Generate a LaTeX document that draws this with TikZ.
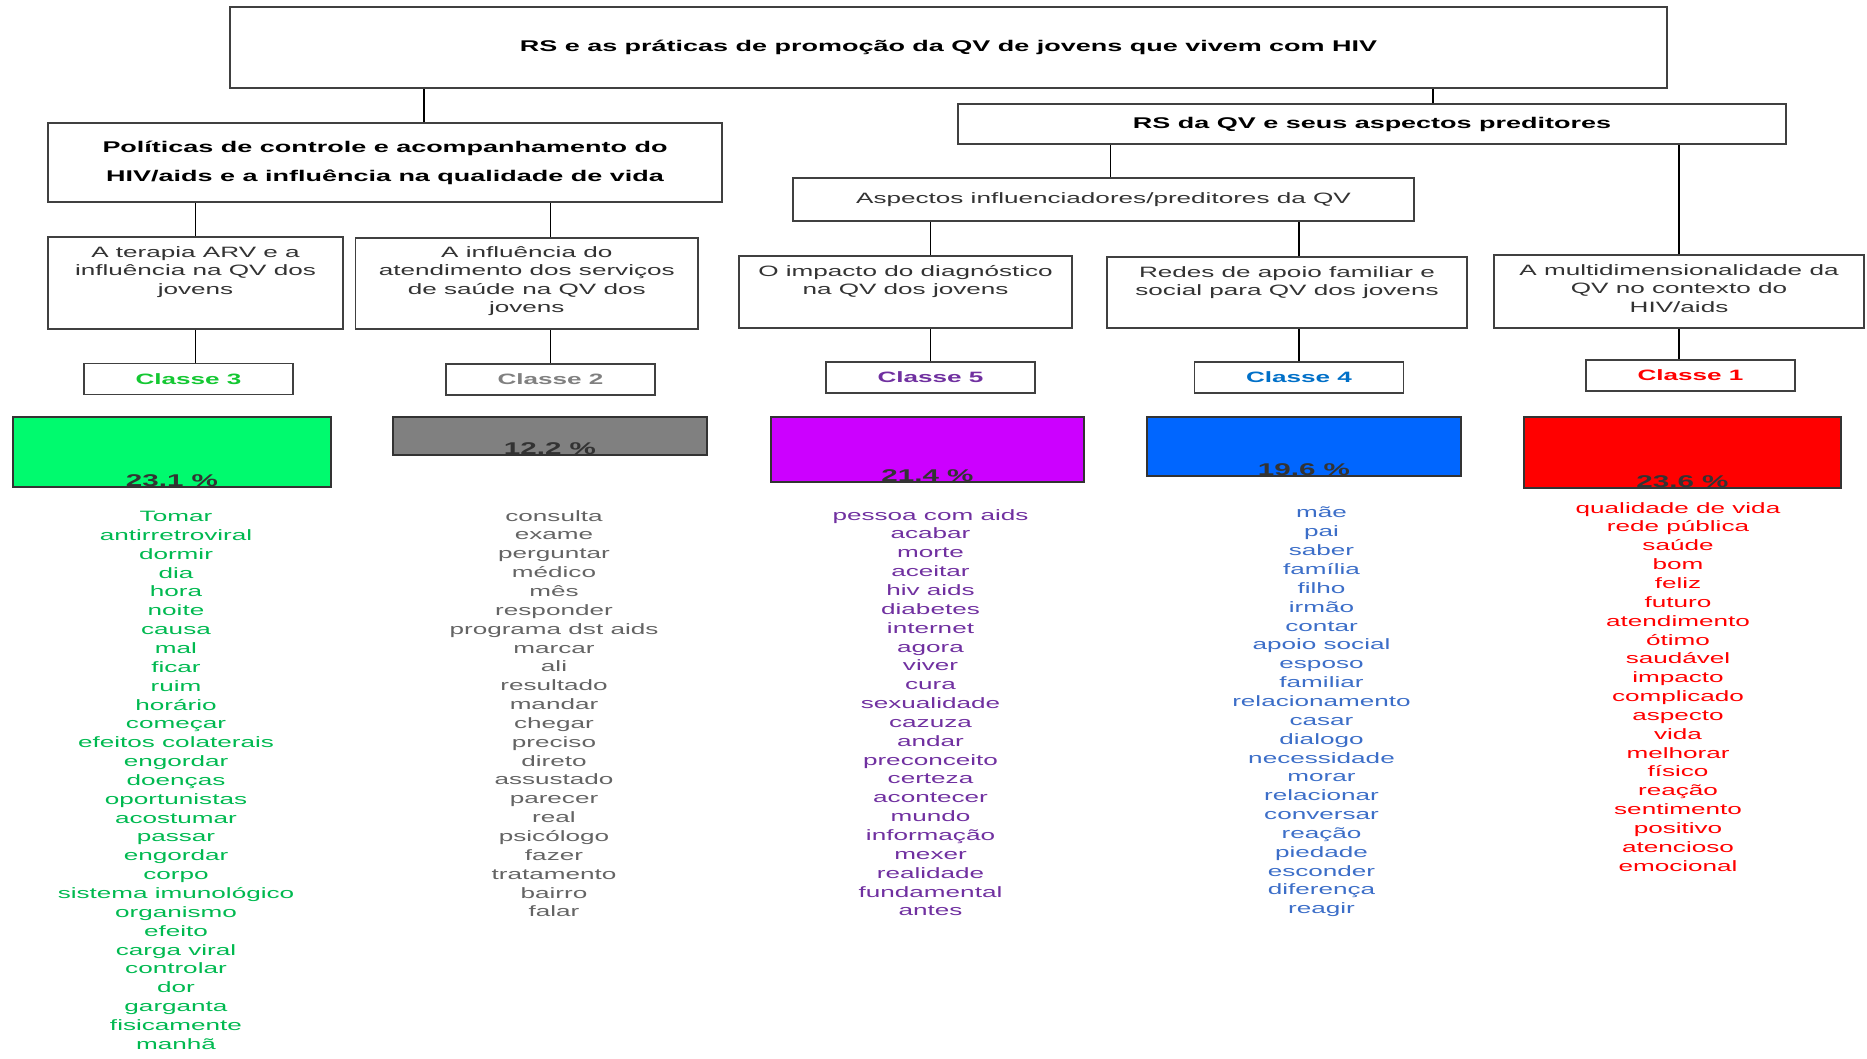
\documentclass[tikz,border=0pt]{standalone}
\usepackage{fontspec}
\setmainfont{Liberation Sans}[FakeStretch=1.74]
\usepackage{tikz}

\definecolor{barverde}{RGB}{0,250,110}
\definecolor{barcinza}{RGB}{128,128,128}
\definecolor{barroxo}{RGB}{204,0,255}
\definecolor{barazul}{RGB}{0,102,255}
\definecolor{barvermelho}{RGB}{255,0,0}
\definecolor{txtverde}{RGB}{0,185,80}
\definecolor{txtcinza}{RGB}{100,100,100}
\definecolor{txtroxo}{RGB}{112,48,160}
\definecolor{txtazul}{RGB}{60,110,200}
\definecolor{txtvermelho}{RGB}{255,0,0}
\definecolor{clsverde}{RGB}{20,200,50}
\definecolor{clscinza}{RGB}{128,128,128}
\definecolor{clsazul}{RGB}{0,112,200}

\begin{document}
\begin{tikzpicture}[x=1pt, y=-1pt,
    caixa/.style={draw=black!75, line width=1.8pt, fill=white, inner sep=0pt},
    titulo/.style={font=\bfseries\fontsize{15.5}{29}\selectfont, align=center},
    texto/.style={inner sep=0pt, align=center, text=black!80, font=\fontsize{15}{18.5}\selectfont},
    classe/.style={caixa, minimum width=209pt, minimum height=31pt, font=\bfseries\fontsize{15}{18}\selectfont},
    barra/.style={draw=black!80, line width=2pt, inner sep=0pt},
    pct/.style={inner sep=0pt, anchor=base, text=black!80, font=\bfseries\fontsize{17}{20}\selectfont},
    lista/.style={inner sep=0pt, anchor=north, align=center, font=\fontsize{15}{18.85}\selectfont},
    liga/.style={line width=1.3pt, black}]
    \useasboundingbox (0,0) rectangle (1867,1059);

    % 1. Caixa principal
    \node[caixa, titulo, minimum width=1437pt, minimum height=81pt] (topo) at (948.5,47.5) {RS e as práticas de promoção da QV de jovens que vivem com HIV};

    % 2. Segundo nivel
    \node[caixa, titulo, minimum width=674pt, minimum height=79pt] (pol) at (385,162.5) {Políticas de controle e acompanhamento do\\HIV/aids e a influência na qualidade de vida};
    \node[caixa, titulo, minimum width=828pt, minimum height=40pt] (rs) at (1372,124) {RS da QV e seus aspectos preditores};
    \node[caixa, texto, minimum width=621pt, minimum height=43pt] (asp) at (1103.5,199.5) {Aspectos influenciadores/preditores da QV};

    % 3. Terceiro nivel (texto no alto da caixa)
    \node[caixa, minimum width=295pt, minimum height=92pt] (tera) at (195.5,283) {};
    \node[texto, anchor=north] (tera-t) at ([yshift=-10pt]tera.north) {A terapia ARV e a\\influência na QV dos\\jovens};
    \node[caixa, minimum width=342.5pt, minimum height=91pt] (infl) at (526.75,283.5) {};
    \node[texto, anchor=north] (infl-t) at ([yshift=-9pt]infl.north) {A influência do\\atendimento dos serviços\\de saúde na QV dos\\jovens};
    \node[caixa, minimum width=333pt, minimum height=72pt] (imp) at (905.5,292) {};
    \node[texto, anchor=north] (imp-t) at ([yshift=-10pt]imp.north) {O impacto do diagnóstico\\na QV dos jovens};
    \node[caixa, minimum width=360pt, minimum height=71pt] (redes) at (1287,292.5) {};
    \node[texto, anchor=north] (redes-t) at ([yshift=-10pt]redes.north) {Redes de apoio familiar e\\social para QV dos jovens};
    \node[caixa, minimum width=370pt, minimum height=73pt] (multi) at (1679,291.5) {};
    \node[texto, anchor=north] (multi-t) at ([yshift=-10pt]multi.north) {A multidimensionalidade da\\QV no contexto do\\HIV/aids};

    % 4. Classes
    \node[classe, text=clsverde] (c3) at (188.5,379) {Classe 3};
    \node[classe, text=clscinza] (c2) at (550.5,379.5) {Classe 2};
    \node[classe, text=txtroxo] (c5) at (930.5,377.5) {Classe 5};
    \node[classe, text=clsazul] (c4) at (1299,377.5) {Classe 4};
    \node[classe, text=txtvermelho] (c1) at (1690.5,375.5) {Classe 1};

    % 5. Ligacoes
    \draw[liga] ([xshift=39pt]pol.north) -- ([xshift=39pt]pol.north |- topo.south);
    \draw[liga] ([xshift=61pt]rs.north) -- ([xshift=61pt]rs.north |- topo.south);
    \draw[liga] (tera.north) -- (tera.north |- pol.south);
    \draw[liga] (c2.north |- infl.north) -- (c2.north |- pol.south);
    \draw[liga] ([xshift=7pt]asp.north) -- ([xshift=7pt]asp.north |- rs.south);
    \draw[liga] (multi.north) -- (multi.north |- rs.south);
    \draw[liga] (c5.north |- imp.north) -- (c5.north |- asp.south);
    \draw[liga] (c4.north |- redes.north) -- (c4.north |- asp.south);
    \draw[liga] (tera.south) -- (tera.south |- c3.north);
    \draw[liga] (c2.north) -- (c2.north |- infl.south);
    \draw[liga] (c5.north) -- (c5.north |- imp.south);
    \draw[liga] (c4.north) -- (c4.north |- redes.south);
    \draw[liga] (multi.south) -- (multi.south |- c1.north);

    % 6. Barras com percentuais
    \node[barra, fill=barverde, minimum width=318pt, minimum height=70pt] (bar3) at (172,452) {};
    \node[barra, fill=barcinza, minimum width=314pt, minimum height=38pt] (bar2) at (550,436) {};
    \node[barra, fill=barroxo, minimum width=313pt, minimum height=65pt] (bar5) at (927.5,449.5) {};
    \node[barra, fill=barazul, minimum width=314pt, minimum height=59pt] (bar4) at (1304,446.5) {};
    \node[barra, fill=barvermelho, minimum width=317pt, minimum height=71pt] (bar1) at (1682.5,452.5) {};
    \node[pct] (p3) at ([yshift=2pt]bar3.south) {23.1 \%};
    \node[pct] (p2) at ([yshift=2pt]bar2.south) {12.2 \%};
    \node[pct] (p5) at ([yshift=2pt]bar5.south) {21.4 \%};
    \node[pct] (p4) at ([yshift=2pt]bar4.south) {19.6 \%};
    \node[pct] (p1) at ([yshift=2pt]bar1.south) {23.6 \%};

    % 7. Listas de palavras
    \node[lista, text=txtverde] (w3) at (176,511) {Tomar\\antirretroviral\\dormir\\dia\\hora\\noite\\causa\\mal\\ficar\\ruim\\horário\\começar\\efeitos colaterais\\engordar\\doenças\\oportunistas\\acostumar\\passar\\engordar\\corpo\\sistema imunológico\\organismo\\efeito\\carga viral\\controlar\\dor\\garganta\\fisicamente\\manhã};
    \node[lista, text=txtcinza] (w2) at (554,510) {consulta\\exame\\perguntar\\médico\\mês\\responder\\programa dst aids\\marcar\\ali\\resultado\\mandar\\chegar\\preciso\\direto\\assustado\\parecer\\real\\psicólogo\\fazer\\tratamento\\bairro\\falar};
    \node[lista, text=txtroxo] (w5) at (930.5,509) {pessoa com aids\\acabar\\morte\\aceitar\\hiv aids\\diabetes\\internet\\agora\\viver\\cura\\sexualidade\\cazuza\\andar\\preconceito\\certeza\\acontecer\\mundo\\informação\\mexer\\realidade\\fundamental\\antes};
    \node[lista, text=txtazul] (w4) at (1321.5,507) {mãe\\pai\\saber\\família\\filho\\irmão\\contar\\apoio social\\esposo\\familiar\\relacionamento\\casar\\dialogo\\necessidade\\morar\\relacionar\\conversar\\reação\\piedade\\esconder\\diferença\\reagir};
    \node[lista, text=txtvermelho] (w1) at (1678,502) {qualidade de vida\\rede pública\\saúde\\bom\\feliz\\futuro\\atendimento\\ótimo\\saudável\\impacto\\complicado\\aspecto\\vida\\melhorar\\físico\\reação\\sentimento\\positivo\\atencioso\\emocional};

\end{tikzpicture}
\end{document}
